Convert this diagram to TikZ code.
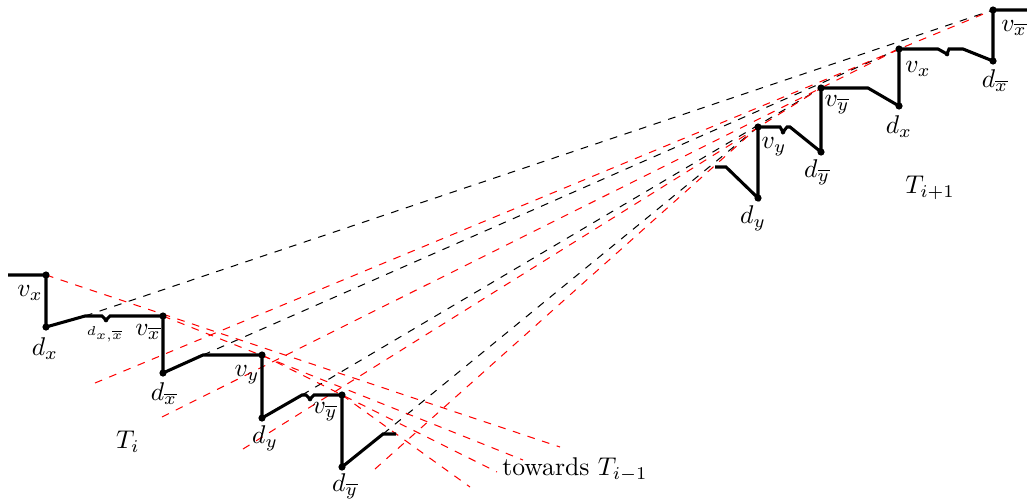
\documentclass[tikz,border=0pt]{standalone}
\usepackage{amsmath}
\begin{document}
\begin{tikzpicture}[x=0.39pt,y=-0.39pt,
  gad/.style={line width=1.2pt},
  bdash/.style={dashed, black, line width=0.4pt},
  rdash/.style={dashed, red, line width=0.4pt},
  bigdot/.style={fill=black},
  lbl/.style={inner sep=1pt}]
\useasboundingbox (0,0) rectangle (1027,503);
% left gadget T_i
\coordinate (Ls) at (8,275);
\coordinate (Lvx) at (46,275);
\coordinate (Ldx) at (46,327);
\coordinate (La) at (85,316);
\coordinate (La1) at (102,316);
\coordinate (Ldxx) at (106,320);
\coordinate (La2) at (110,316);
\coordinate (Lvxb) at (163,316);
\coordinate (Ldxb) at (163,373);
\coordinate (Lb) at (203,355);
\coordinate (Lvy) at (262,355);
\coordinate (Ldy) at (262,418);
\coordinate (Lc) at (302,395);
\coordinate (Lc1) at (306,395);
\coordinate (Ldyy) at (310,399);
\coordinate (Lc2) at (314,395);
\coordinate (Lvyb) at (342,395);
\coordinate (Ldyb) at (342,467);
\coordinate (Ld) at (383,434);
\coordinate (Le) at (396,434);
% right gadget T_{i+1}
\coordinate (Rs) at (715,167);
\coordinate (Ra) at (726,167);
\coordinate (Rdy) at (758,198);
\coordinate (Rvy) at (758,127);
\coordinate (Rn1a) at (780,127);
\coordinate (Rn1) at (783,132);
\coordinate (Rn1b) at (787,127);
\coordinate (Rb) at (790,127);
\coordinate (Rdyb) at (821,152);
\coordinate (Rvyb) at (821,88);
\coordinate (Rc) at (868,88);
\coordinate (Rdx) at (899,106);
\coordinate (Rvx) at (899,49);
\coordinate (Rn2a) at (938,49);
\coordinate (Rn2) at (947,54);
\coordinate (Rn2b) at (949,49);
\coordinate (Rd) at (963,49);
\coordinate (Rdxb) at (993,61);
\coordinate (Rvxb) at (993,10);
\coordinate (Re) at (1027,10);
% red start / end points
\coordinate (r1) at (95,383);
\coordinate (r2) at (162,417);
\coordinate (r3) at (243,449);
\coordinate (r4) at (375,469);
\coordinate (t1) at (560,447);
\coordinate (t2) at (523,460);
\coordinate (t3) at (497,472);
\coordinate (t4) at (470,487);
% dashed lines
\draw[bdash] (La) -- (Rvxb);
\draw[bdash] (Lb) -- (Rvx);
\draw[bdash] (Lc) -- (Rvyb);
\draw[bdash] (Ld) -- (Rvy);
\draw[rdash] (r1) -- (Rvxb);
\draw[rdash] (r2) -- (Rvx);
\draw[rdash] (r3) -- (Rvyb);
\draw[rdash] (r4) -- (Rvy);
\draw[rdash] (Lvx) -- (t1);
\draw[rdash] (Lvxb) -- (t2);
\draw[rdash] (Lvy) -- (t3);
\draw[rdash] (Lvyb) -- (t4);
% gadget paths
\draw[gad] (Ls) -- (Lvx) -- (Ldx) -- (La) -- (La1) -- (Ldxx) -- (La2) -- (Lvxb)
  -- (Ldxb) -- (Lb) -- (Lvy) -- (Ldy) -- (Lc) -- (Lc1) -- (Ldyy) -- (Lc2)
  -- (Lvyb) -- (Ldyb) -- (Ld) -- (Le);
\draw[gad] (Rs) -- (Ra) -- (Rdy) -- (Rvy) -- (Rn1a) -- (Rn1) -- (Rn1b) -- (Rb)
  -- (Rdyb) -- (Rvyb) -- (Rc) -- (Rdx) -- (Rvx) -- (Rn2a) -- (Rn2) -- (Rn2b)
  -- (Rd) -- (Rdxb) -- (Rvxb) -- (Re);
% dots
\foreach \p in {Lvx,Ldx,Lvxb,Ldxb,Lvy,Ldy,Lvyb,Ldyb,Rdy,Rvy,Rdyb,Rvyb,Rdx,Rvx,Rdxb,Rvxb}
  \fill[bigdot] (\p) circle[radius=1.4pt];
\foreach \p in {Ldxx,Ldyy,Rn1,Rn2}
  \fill[bigdot] (\p) circle[radius=0.9pt];
% labels left
\node[lbl] (lvx) at (30,293) {$v_x$};
\node[lbl] (ldx) at (45,349) {$d_x$};
\node[lbl] (ldxx) at (105,334) {$\scriptscriptstyle d_{x,\overline{x}}$};
\node[lbl] (lvxb) at (148,332) {$v_{\overline{x}}$};
\node[lbl] (ldxb) at (164,394) {$d_{\overline{x}}$};
\node[lbl] (lvy) at (247,375) {$v_y$};
\node[lbl] (ldy) at (265,438) {$d_y$};
\node[lbl] (lvyb) at (325,412) {$v_{\overline{y}}$};
\node[lbl] (ldyb) at (345,486) {$d_{\overline{y}}$};
\node[lbl] (lTi) at (128,442) {$T_i$};
\node[lbl] (ltow) at (575,470) {towards $T_{i-1}$};
% labels right
\node[lbl] (rvy) at (774,147) {$v_y$};
\node[lbl] (rdy) at (753,218) {$d_y$};
\node[lbl] (rdyb) at (817,172) {$d_{\overline{y}}$};
\node[lbl] (rvyb) at (837,105) {$v_{\overline{y}}$};
\node[lbl] (rdx) at (899,127) {$d_x$};
\node[lbl] (rvx) at (918,69) {$v_x$};
\node[lbl] (rdxb) at (995,81) {$d_{\overline{x}}$};
\node[lbl] (rvxb) at (1014,28) {$v_{\overline{x}}$};
\node[lbl] (rTi) at (930,188) {$T_{i+1}$};
\end{tikzpicture}
\end{document}
